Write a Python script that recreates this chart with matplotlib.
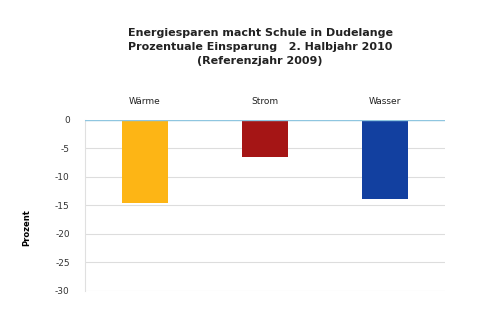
import matplotlib
matplotlib.use("Agg")
import matplotlib.pyplot as plt

# Daten
categories = ["Wärme", "Strom", "Wasser"]
values = [-14.6, -6.5, -13.8]
colors = ["#FDB515", "#A51515", "#1240A0"]
yticks = [0, -5, -10, -15, -20, -25, -30]

plt.rcParams["font.family"] = ["DejaVu Sans"]

fig = plt.figure(figsize=(4.89, 3.34), dpi=100)
fig.patch.set_facecolor("white")
ax = fig.add_axes([0.174, 0.129, 0.736, 0.512])

x = range(len(categories))
ax.bar(x, values, width=0.39, color=colors, zorder=3)

ax.set_xlim(-0.5, 2.5)
ax.set_ylim(-30, 0)
ax.set_yticks(yticks)
ax.set_yticklabels([str(t) for t in yticks], fontsize=6.5, color="#333333")
ax.tick_params(axis="y", length=0, pad=11)

# Kategorien oben
ax.xaxis.tick_top()
ax.set_xticks(list(x))
ax.set_xticklabels(categories, fontsize=6.5, color="#222222")
ax.tick_params(axis="x", length=0, pad=10)

ax.grid(axis="y", color="#dddddd", linewidth=0.8, zorder=0)
ax.axhline(0, color="#8fc6e0", linewidth=1.0, zorder=4)
for s in ["top", "right", "bottom"]:
    ax.spines[s].set_visible(False)
ax.spines["left"].set_color("#e0e0e0")

ax.set_ylabel("Prozent", fontsize=6, fontweight="bold")
ax.yaxis.set_label_coords(-0.15, 0.37)

fig.text(0.532, 0.859, "Energiesparen macht Schule in Dudelange\n"
         "Prozentuale Einsparung   2. Halbjahr 2010\n"
         "(Referenzjahr 2009)",
         ha="center", va="center", fontsize=8, fontweight="bold",
         linespacing=1.5, color="#222222")

fig.savefig("out.png", dpi=100, facecolor="white")
